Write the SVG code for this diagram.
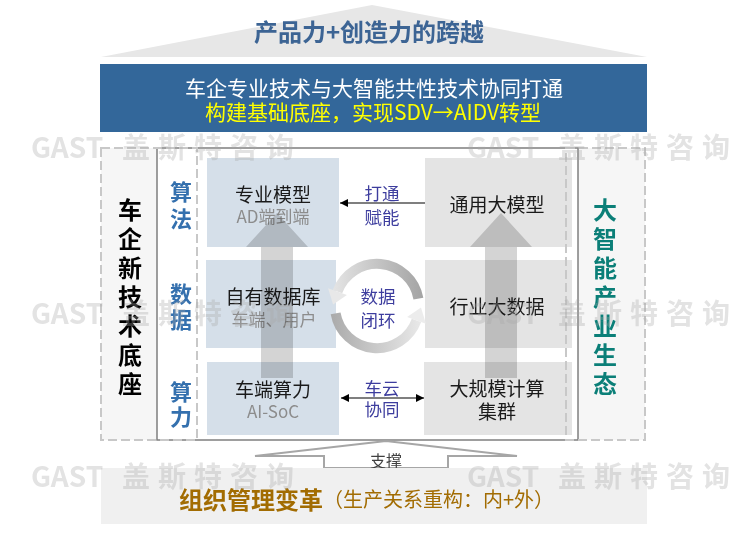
<svg xmlns="http://www.w3.org/2000/svg" width="744" height="533" viewBox="0 0 744 533">
<defs>
<style>
text{font-family:"Noto Sans CJK SC","Noto Sans",sans-serif;dominant-baseline:central;text-anchor:middle}
.box-b{fill:#d5dfe9}
.box-g{fill:#e4e4e4}
.main{font-size:19px;fill:#1a1a1a}
.sub{font-size:17px;fill:#8c8c8c}
.lbl{font-size:22px;font-weight:bold;fill:#3470ae}
.conn{font-size:17.5px;fill:#3d3d9e}
.side{font-size:24px;font-weight:bold}
.panel{fill:#f6f6f6}
.dash{fill:none;stroke:#c8c8c8;stroke-width:2;stroke-dasharray:9 4}
.wm{font-size:28px;font-weight:bold;fill:#a8a8a8;opacity:0.32;text-anchor:start}
.line{stroke:#000;stroke-width:1.2;fill:none}
.big{fill:#d4d4d4;mix-blend-mode:multiply}
</style>
<marker id="ah" viewBox="0 0 10 10" refX="10" refY="5" markerWidth="7" markerHeight="7" orient="auto-start-reverse">
<path d="M0,0 L10,5 L0,10 z" fill="#000"/>
</marker>
<linearGradient id="gu" gradientUnits="userSpaceOnUse" x1="422" y1="0" x2="328" y2="0">
<stop offset="0" stop-color="#a4a4a4"/><stop offset="1" stop-color="#e8e8e8"/>
</linearGradient>
<linearGradient id="gl" gradientUnits="userSpaceOnUse" x1="332" y1="0" x2="426" y2="0">
<stop offset="0" stop-color="#ababab"/><stop offset="1" stop-color="#ececec"/>
</linearGradient>
</defs>

<g id="roof">
<polygon points="101,57 372,5 647,57" fill="#e7e7e7"/>
<text x="369" y="30" font-size="24" font-weight="bold" fill="#3c6494">产品力+创造力的跨越</text>
</g>

<g id="header">
<rect x="100" y="64" width="547" height="68" fill="#33679a"/>
<text x="374" y="87" font-size="21" fill="#ffffff">车企专业技术与大智能共性技术协同打通</text>
<text x="373" y="111" font-size="21" fill="#ffff00">构建基础底座，实现SDV→AIDV转型</text>
</g>

<g id="panels">
<rect class="panel" x="101" y="148" width="96" height="292"/>
<rect class="panel" x="566" y="148" width="79" height="292"/>
<rect x="157" y="148" width="421" height="292" fill="#ffffff" stroke="#7f7f7f" stroke-width="1.5"/>
</g>

<g id="node-zhuanye">
<rect class="box-b" x="207" y="158" width="132" height="89"/>
<text class="main" x="273" y="193">专业模型</text>
<text class="sub" x="273" y="215">AD端到端</text>
</g>
<g id="node-ziyou">
<rect class="box-b" x="206" y="260" width="130" height="88"/>
<text class="main" x="273" y="295">自有数据库</text>
<text class="sub" x="274" y="318">车端、用户</text>
</g>
<g id="node-chesuan">
<rect class="box-b" x="207" y="362" width="132" height="73"/>
<text class="main" x="273" y="388">车端算力</text>
<text class="sub" x="273" y="410">AI-SoC</text>
</g>
<g id="node-tongyong">
<rect class="box-g" x="425" y="158" width="147" height="89"/>
<text class="main" x="497" y="203">通用大模型</text>
</g>
<g id="node-hangye">
<rect class="box-g" x="425" y="260" width="147" height="88"/>
<text class="main" x="497" y="305">行业大数据</text>
</g>
<g id="node-jisuan">
<rect class="box-g" x="424" y="362" width="148" height="73"/>
<text class="main" x="497" y="387">大规模计算</text>
<text class="main" x="497" y="410">集群</text>
</g>

<g id="panel-borders">
<rect class="dash" x="101" y="148" width="96" height="292"/>
<rect class="dash" x="566" y="148" width="79" height="292"/>
</g>

<g id="connectors">
<polygon class="big" points="277,213 308,247 293,247 293,378 261,378 261,247 246,247"/>
<polygon class="big" points="501,213 532,247 517,247 517,378 485,378 485,247 470,247"/>
<path d="M418.4,298.7 A42,42 0 0 0 337.5,291.6" fill="none" stroke="url(#gu)" stroke-width="10"/>
<polygon points="328.1,288.2 346.9,295 333.1,304.5" fill="#e8e8e8"/>
<path d="M335.6,313.3 A42,42 0 0 0 416.5,320.4" fill="none" stroke="url(#gl)" stroke-width="10"/>
<polygon points="425.9,323.8 407.1,317 421,307.6" fill="#ececec"/>
<line class="line" x1="425" y1="203" x2="340" y2="203" marker-end="url(#ah)"/>
<line class="line" x1="341" y1="398" x2="424" y2="398" marker-start="url(#ah)" marker-end="url(#ah)"/>
<text class="conn" x="382" y="192">打通</text>
<text class="conn" x="382" y="216">赋能</text>
<text class="conn" x="378" y="295">数据</text>
<text class="conn" x="378" y="319">闭环</text>
<text class="conn" x="382" y="387">车云</text>
<text class="conn" x="382" y="408">协同</text>
</g>

<g id="layer-labels">
<text class="lbl" x="181" y="190">算</text>
<text class="lbl" x="181" y="217">法</text>
<text class="lbl" x="181" y="292">数</text>
<text class="lbl" x="181" y="318">据</text>
<text class="lbl" x="181" y="390">算</text>
<text class="lbl" x="181" y="415">力</text>
</g>

<g id="left-side">
<text class="side" fill="#000000"><tspan x="130" y="208">车</tspan><tspan x="130" y="237">企</tspan><tspan x="130" y="266">新</tspan><tspan x="130" y="295">技</tspan><tspan x="130" y="324">术</tspan><tspan x="130" y="353">底</tspan><tspan x="130" y="382">座</tspan></text>
</g>
<g id="right-side">
<text class="side" fill="#0b7f78"><tspan x="605" y="208">大</tspan><tspan x="605" y="237">智</tspan><tspan x="605" y="266">能</tspan><tspan x="605" y="295">产</tspan><tspan x="605" y="324">业</tspan><tspan x="605" y="353">生</tspan><tspan x="605" y="382">态</tspan></text>
</g>

<g id="support">
<polygon points="324,468 324,456 255,456 386,441 517,456 448,456 448,468" fill="#ffffff" stroke="#a6a6a6" stroke-width="2"/>
<text x="386" y="460" font-size="16" fill="#404040">支撑</text>
</g>

<g id="base">
<rect x="101" y="468" width="546" height="56" fill="#f0f0f0"/>
<text x="179" y="498" style="text-anchor:start" fill="#a26c02"><tspan font-size="24" font-weight="bold">组织管理变革</tspan><tspan font-size="20">（生产关系重构：内+外）</tspan></text>
</g>

<g id="watermarks">
<text class="wm" x="31" y="146">GAST<tspan x="122" letter-spacing="8">盖斯特咨询</tspan></text>
<text class="wm" x="467" y="146">GAST<tspan x="558" letter-spacing="8">盖斯特咨询</tspan></text>
<text class="wm" x="31" y="312">GAST<tspan x="122" letter-spacing="8">盖斯特咨询</tspan></text>
<text class="wm" x="467" y="312">GAST<tspan x="558" letter-spacing="8">盖斯特咨询</tspan></text>
<text class="wm" x="31" y="475">GAST<tspan x="122" letter-spacing="8">盖斯特咨询</tspan></text>
<text class="wm" x="467" y="475">GAST<tspan x="558" letter-spacing="8">盖斯特咨询</tspan></text>
</g>
</svg>
